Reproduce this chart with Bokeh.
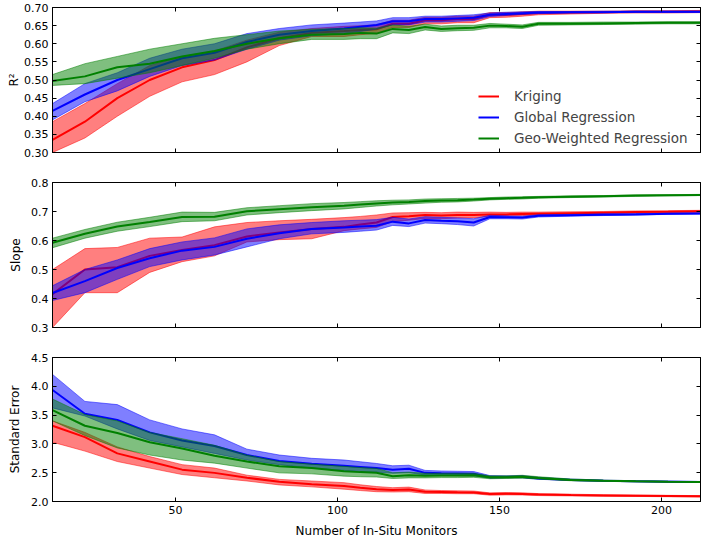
from bokeh.plotting import figure
from bokeh.layouts import column
from bokeh.models import (Range1d, LinearAxis, FixedTicker, NumeralTickFormatter,
                          CustomJSTickFormatter, Legend, LegendItem)
from bokeh.embed import file_html
from bokeh.resources import INLINE

# ---------------- data ----------------
monitors = [12, 22, 32, 42, 52, 62, 72, 82, 92, 102, 107, 112, 117, 122, 127,
            132, 137, 142, 147, 152, 157, 162, 172, 182, 192, 202, 212]

# R^2
r2_krig = [0.335, 0.385, 0.45, 0.50, 0.535, 0.555, 0.59, 0.615, 0.63, 0.635, 0.638, 0.64, 0.655, 0.655,
           0.665, 0.665, 0.668, 0.668, 0.68, 0.68, 0.682, 0.685, 0.686, 0.687, 0.688, 0.688, 0.689]
r2_krig_lo = [0.30, 0.34, 0.40, 0.455, 0.495, 0.515, 0.55, 0.595, 0.62, 0.62, 0.625, 0.628, 0.645, 0.645,
              0.655, 0.655, 0.658, 0.658, 0.672, 0.673, 0.676, 0.68, 0.682, 0.684, 0.685, 0.685, 0.686]
r2_krig_hi = [0.385, 0.435, 0.49, 0.54, 0.565, 0.58, 0.61, 0.632, 0.642, 0.648, 0.65, 0.652, 0.665, 0.665,
              0.673, 0.673, 0.676, 0.676, 0.686, 0.686, 0.688, 0.69, 0.69, 0.69, 0.691, 0.691, 0.692]
r2_glob = [0.415, 0.46, 0.50, 0.53, 0.56, 0.575, 0.605, 0.625, 0.635, 0.642, 0.647, 0.652, 0.662, 0.662,
           0.668, 0.668, 0.67, 0.672, 0.68, 0.682, 0.684, 0.686, 0.687, 0.687, 0.688, 0.688, 0.688]
r2_glob_lo = [0.39, 0.44, 0.47, 0.51, 0.54, 0.555, 0.585, 0.61, 0.622, 0.628, 0.634, 0.64, 0.652, 0.652,
              0.66, 0.66, 0.662, 0.664, 0.675, 0.678, 0.681, 0.683, 0.685, 0.686, 0.686, 0.686, 0.686]
r2_glob_hi = [0.435, 0.49, 0.52, 0.56, 0.585, 0.60, 0.628, 0.642, 0.652, 0.657, 0.66, 0.663, 0.672, 0.672,
              0.676, 0.676, 0.678, 0.68, 0.685, 0.687, 0.688, 0.689, 0.689, 0.69, 0.69, 0.69, 0.69]
r2_geo = [0.497, 0.51, 0.535, 0.545, 0.565, 0.58, 0.60, 0.615, 0.625, 0.627, 0.63, 0.628, 0.641, 0.638,
          0.646, 0.641, 0.643, 0.644, 0.65, 0.649, 0.647, 0.655, 0.655, 0.656, 0.657, 0.658, 0.658]
r2_geo_lo = [0.485, 0.49, 0.505, 0.52, 0.54, 0.56, 0.585, 0.60, 0.612, 0.612, 0.614, 0.614, 0.63, 0.628,
             0.638, 0.634, 0.636, 0.637, 0.644, 0.644, 0.642, 0.651, 0.652, 0.653, 0.654, 0.655, 0.655]
r2_geo_hi = [0.515, 0.545, 0.565, 0.585, 0.60, 0.615, 0.625, 0.635, 0.64, 0.642, 0.644, 0.643, 0.652, 0.648,
             0.654, 0.649, 0.651, 0.651, 0.656, 0.654, 0.652, 0.659, 0.659, 0.66, 0.66, 0.661, 0.661]

# Slope
sl_krig = [0.415, 0.50, 0.508, 0.547, 0.567, 0.584, 0.614, 0.628, 0.64, 0.647, 0.655, 0.662, 0.681, 0.684,
           0.688, 0.686, 0.688, 0.688, 0.69, 0.69, 0.691, 0.692, 0.694, 0.696, 0.698, 0.699, 0.701]
sl_krig_lo = [0.30, 0.42, 0.42, 0.49, 0.527, 0.547, 0.595, 0.603, 0.606, 0.634, 0.64, 0.645, 0.665, 0.67,
              0.676, 0.675, 0.678, 0.678, 0.684, 0.685, 0.686, 0.688, 0.69, 0.692, 0.694, 0.695, 0.697]
sl_krig_hi = [0.50, 0.572, 0.576, 0.608, 0.612, 0.647, 0.662, 0.668, 0.673, 0.679, 0.683, 0.688, 0.695, 0.696,
              0.697, 0.696, 0.698, 0.697, 0.698, 0.697, 0.698, 0.698, 0.699, 0.70, 0.702, 0.703, 0.704]
sl_glob = [0.419, 0.46, 0.505, 0.539, 0.565, 0.578, 0.606, 0.625, 0.64, 0.645, 0.648, 0.651, 0.665, 0.659,
           0.671, 0.668, 0.666, 0.662, 0.681, 0.68, 0.679, 0.685, 0.687, 0.689, 0.69, 0.692, 0.693]
sl_glob_lo = [0.393, 0.42, 0.466, 0.51, 0.533, 0.55, 0.578, 0.606, 0.623, 0.628, 0.632, 0.636, 0.652, 0.648,
              0.66, 0.658, 0.655, 0.65, 0.675, 0.675, 0.674, 0.681, 0.684, 0.686, 0.688, 0.69, 0.691]
sl_glob_hi = [0.444, 0.50, 0.533, 0.572, 0.595, 0.609, 0.64, 0.654, 0.662, 0.668, 0.67, 0.672, 0.68, 0.674,
              0.682, 0.68, 0.678, 0.675, 0.687, 0.685, 0.684, 0.689, 0.69, 0.692, 0.693, 0.694, 0.695]
sl_geo = [0.592, 0.623, 0.648, 0.664, 0.681, 0.682, 0.701, 0.708, 0.715, 0.72, 0.724, 0.728, 0.731, 0.733,
          0.736, 0.738, 0.739, 0.741, 0.744, 0.746, 0.747, 0.749, 0.751, 0.753, 0.755, 0.756, 0.757]
sl_geo_lo = [0.575, 0.608, 0.632, 0.648, 0.665, 0.668, 0.688, 0.696, 0.703, 0.709, 0.714, 0.719, 0.723, 0.726,
             0.729, 0.732, 0.733, 0.736, 0.74, 0.742, 0.743, 0.746, 0.748, 0.75, 0.752, 0.754, 0.755]
sl_geo_hi = [0.608, 0.638, 0.663, 0.68, 0.698, 0.697, 0.713, 0.72, 0.727, 0.731, 0.734, 0.737, 0.739, 0.74,
             0.743, 0.744, 0.745, 0.746, 0.748, 0.75, 0.751, 0.752, 0.754, 0.755, 0.757, 0.758, 0.759]

# Standard error
se_krig = [3.315, 3.117, 2.835, 2.694, 2.553, 2.497, 2.412, 2.344, 2.30, 2.27, 2.24, 2.214, 2.20, 2.21,
           2.17, 2.165, 2.16, 2.158, 2.13, 2.135, 2.132, 2.12, 2.112, 2.105, 2.10, 2.095, 2.09]
se_krig_lo = [3.03, 2.875, 2.694, 2.58, 2.468, 2.412, 2.356, 2.288, 2.254, 2.214, 2.19, 2.17, 2.165, 2.17,
              2.14, 2.14, 2.135, 2.135, 2.11, 2.115, 2.113, 2.103, 2.097, 2.092, 2.088, 2.083, 2.078]
se_krig_hi = [3.40, 3.20, 2.948, 2.78, 2.64, 2.58, 2.457, 2.384, 2.356, 2.327, 2.29, 2.26, 2.24, 2.25,
              2.20, 2.19, 2.185, 2.182, 2.15, 2.155, 2.151, 2.137, 2.127, 2.118, 2.112, 2.107, 2.102]
se_glob = [3.936, 3.524, 3.417, 3.20, 3.06, 2.965, 2.807, 2.705, 2.655, 2.62, 2.60, 2.58, 2.553, 2.57,
           2.497, 2.49, 2.485, 2.48, 2.423, 2.425, 2.43, 2.40, 2.375, 2.36, 2.35, 2.345, 2.339]
se_glob_lo = [3.625, 3.484, 3.26, 3.06, 2.948, 2.835, 2.72, 2.64, 2.58, 2.54, 2.52, 2.51, 2.49, 2.50,
              2.46, 2.455, 2.45, 2.445, 2.405, 2.41, 2.41, 2.385, 2.365, 2.35, 2.342, 2.337, 2.333]
se_glob_hi = [4.207, 3.738, 3.682, 3.417, 3.26, 3.157, 2.909, 2.807, 2.75, 2.72, 2.69, 2.66, 2.62, 2.63,
              2.54, 2.53, 2.525, 2.52, 2.45, 2.445, 2.45, 2.42, 2.39, 2.372, 2.36, 2.355, 2.348]
se_geo = [3.586, 3.315, 3.19, 3.03, 2.92, 2.795, 2.694, 2.61, 2.58, 2.525, 2.51, 2.50, 2.44, 2.455,
          2.445, 2.45, 2.45, 2.455, 2.42, 2.42, 2.43, 2.41, 2.375, 2.36, 2.35, 2.343, 2.339]
se_geo_lo = [3.40, 3.145, 2.93, 2.807, 2.72, 2.666, 2.58, 2.497, 2.48, 2.44, 2.43, 2.425, 2.40, 2.41,
             2.41, 2.415, 2.415, 2.42, 2.395, 2.40, 2.405, 2.39, 2.36, 2.35, 2.342, 2.336, 2.333]
se_geo_hi = [3.78, 3.51, 3.40, 3.20, 3.09, 2.976, 2.807, 2.694, 2.65, 2.61, 2.59, 2.575, 2.50, 2.51,
             2.49, 2.49, 2.49, 2.49, 2.445, 2.445, 2.455, 2.43, 2.39, 2.372, 2.36, 2.35, 2.345]

series_names = ["Kriging", "Global Regression", "Geo-Weighted Regression"]
x_ticks = [50, 100, 150, 200]

FONT = "DejaVu Sans"
COLORS = ["#ff0000", "#0000ff", "#008000"]
BLANK = CustomJSTickFormatter(code="return ''")


def style_axis(ax):
    ax.major_tick_in = 4
    ax.major_tick_out = 0
    ax.minor_tick_in = 0
    ax.minor_tick_out = 0
    ax.axis_line_color = "black"
    ax.major_tick_line_color = "black"
    ax.major_label_text_font = FONT
    ax.major_label_text_font_size = "11px"
    ax.major_label_text_color = "black"
    ax.axis_label_text_font = FONT
    ax.axis_label_text_font_size = "12px"
    ax.axis_label_text_font_style = "normal"
    ax.axis_label_text_color = "black"
    ax.major_label_standoff = 4


def make_panel(ylabel, yrange, yticks, yfmt, label_standoff, data, top_border,
               bottom_border, show_x_labels, legend=False):
    h = top_border + 145 + bottom_border
    p = figure(width=701, height=h, output_backend="svg", toolbar_location=None,
               x_range=Range1d(12, 212), y_range=Range1d(*yrange),
               min_border_left=52, min_border_right=1,
               min_border_top=top_border, min_border_bottom=bottom_border)
    p.xgrid.visible = False
    p.ygrid.visible = False
    p.outline_line_color = "black"
    p.background_fill_color = "white"
    p.border_fill_color = "white"

    bottom_ax = p.below[0]
    left_ax = p.left[0]

    lines = []
    for (mean, lo, hi), col in zip(data, COLORS):
        px = list(monitors) + list(monitors)[::-1]
        py = list(lo) + list(hi)[::-1]
        p.patch(px, py, fill_color=col, fill_alpha=0.5, line_color=col,
                line_alpha=0.5, line_width=1)
        r = p.line(monitors, mean, line_color=col, line_width=2)
        lines.append(r)

    bottom_ax.ticker = FixedTicker(ticks=x_ticks)
    left_ax.ticker = FixedTicker(ticks=yticks)
    left_ax.formatter = NumeralTickFormatter(format=yfmt)
    top_ax = LinearAxis(ticker=FixedTicker(ticks=x_ticks), formatter=BLANK)
    right_ax = LinearAxis(ticker=FixedTicker(ticks=yticks), formatter=BLANK)
    p.add_layout(top_ax, "above")
    p.add_layout(right_ax, "right")
    for ax in [bottom_ax, left_ax, top_ax, right_ax]:
        style_axis(ax)
    top_ax.major_label_standoff = 0
    right_ax.major_label_standoff = 0
    if not show_x_labels:
        bottom_ax.formatter = BLANK
        bottom_ax.major_label_standoff = 0
    else:
        bottom_ax.axis_label = "Number of In-Situ Monitors"
        bottom_ax.axis_label_standoff = 7
    left_ax.axis_label = ylabel
    left_ax.axis_label_standoff = label_standoff

    if legend:
        items = [LegendItem(label=n, renderers=[r]) for n, r in zip(series_names, lines)]
        lg = Legend(items=items, location=(426, 4), border_line_color=None,
                    background_fill_alpha=0, padding=0, margin=0, spacing=1,
                    glyph_width=21, glyph_height=20, label_height=20,
                    label_standoff=15, label_text_font=FONT,
                    label_text_font_size="13.5px")
        p.add_layout(lg, "center")
    return p


p1 = make_panel("R\u00b2", (0.30, 0.70), [0.30, 0.35, 0.40, 0.45, 0.50, 0.55, 0.60, 0.65, 0.70], "0.00", 0,
                [(r2_krig, r2_krig_lo, r2_krig_hi), (r2_glob, r2_glob_lo, r2_glob_hi),
                 (r2_geo, r2_geo_lo, r2_geo_hi)], 7, 15, False, legend=True)
p2 = make_panel("Slope", (0.3, 0.8), [0.3, 0.4, 0.5, 0.6, 0.7, 0.8], "0.0", 5,
                [(sl_krig, sl_krig_lo, sl_krig_hi), (sl_glob, sl_glob_lo, sl_glob_hi),
                 (sl_geo, sl_geo_lo, sl_geo_hi)], 15, 15, False)
p3 = make_panel("Standard Error", (2.0, 4.5), [2.0, 2.5, 3.0, 3.5, 4.0, 4.5], "0.0", 6,
                [(se_krig, se_krig_lo, se_krig_hi), (se_glob, se_glob_lo, se_glob_hi),
                 (se_geo, se_geo_lo, se_geo_hi)], 15, 38, True)

layout = column(p1, p2, p3, spacing=0)
open("out.html", "w").write(file_html(layout, INLINE))
